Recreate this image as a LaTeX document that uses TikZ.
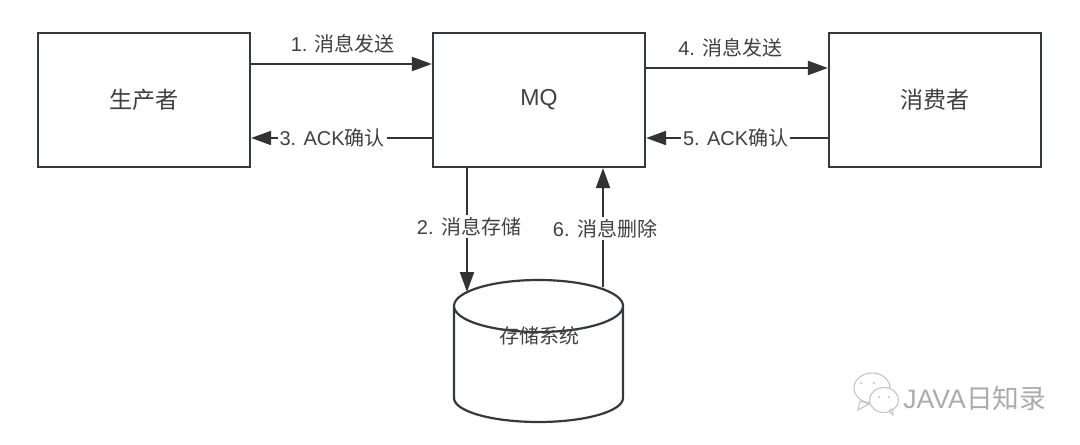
\documentclass[tikz,border=0pt]{standalone}
\usepackage{fontspec}
\setmainfont{Liberation Sans}
\newfontfamily\cjk{Noto Sans CJK SC}
\definecolor{ln}{HTML}{333A3F}
\definecolor{ar}{HTML}{333333}
\definecolor{tx}{HTML}{404040}
\definecolor{wm}{HTML}{ABABAB}
\definecolor{wl}{HTML}{C4C4C4}
\usetikzlibrary{arrows.meta}
\tikzset{
  boxn/.style={draw=ln,line width=1.65pt,minimum width=159pt,minimum height=100.5pt,inner sep=0pt,text=tx,font=\fontsize{17.3pt}{21pt}\selectfont},
  lab/.style={fill=white,inner sep=1.5pt,text=tx,font=\fontsize{15pt}{18pt}\selectfont},
  flow/.style={draw=ar,line width=1.5pt,-{Triangle[length=15pt,width=10.5pt]}},
}
\begin{document}
\begin{tikzpicture}[x=0.75pt,y=-0.75pt]
\useasboundingbox (0,0) rectangle (1080,445);
\fill[white] (0,0) rectangle (1080,445);
\node[boxn] (prod) at (144,100) {{\cjk 生产者}};
\node[boxn] (mq) at (539,100) {\raisebox{-2.6pt}{MQ}};
\node[boxn] (cons) at (935,100) {{\cjk 消费者}};
% cylinder
\coordinate (cylA) at (467,292);
\coordinate (cylB) at (603,287);
\draw[ln,line width=1.65pt] (454,306) arc[x radius=84.5,y radius=26,start angle=180,end angle=360]
  (454,306) arc[x radius=84.5,y radius=26,start angle=180,end angle=0]
  -- (623,398) arc[x radius=84.5,y radius=24,start angle=0,end angle=180] -- cycle;
\node[text=tx,font=\fontsize{15pt}{18pt}\selectfont,inner sep=0pt] (store) at (539.5,336) {{\cjk 存储系统}};
% connectors
\draw[flow] ([yshift=27pt]prod.east) -- node[lab,fill=none,yshift=15.5pt,xshift=1pt] (l1) {1. {\cjk 消息发送}} ([yshift=27pt]mq.west);
\draw[flow] ([yshift=-28.5pt]mq.west) -- node[lab,xshift=-7pt] (l3) {3. ACK{\cjk 确认}} ([yshift=-28.5pt]prod.east);
\draw[flow] ([yshift=24pt]mq.east) -- node[lab,fill=none,yshift=15.5pt,xshift=-5pt] (l4) {4. {\cjk 消息发送}} ([yshift=24pt]cons.west);
\draw[flow] ([yshift=-28.5pt]cons.west) -- node[lab,xshift=-1pt] (l5) {5. ACK{\cjk 确认}} ([yshift=-28.5pt]mq.east);
\draw[flow] (mq.south -| cylA) -- node[lab,pos=0.47,xshift=1.5pt] (l2) {2. {\cjk 消息存储}} (cylA);
\draw[flow] (cylB) -- node[lab,pos=0.49,xshift=1.5pt] (l6) {6. {\cjk 消息删除}} (mq.south -| cylB);
% watermark
\begin{scope}[draw=wl,line width=0.8pt,fill=white]
\filldraw (872,388) ellipse[x radius=18,y radius=15];
\filldraw (860,401) -- (858,410) -- (869,404) -- cycle;
\filldraw (884,400) ellipse[x radius=14.5,y radius=12.5];
\filldraw (889,411) -- (893,415) -- (892,409) -- cycle;
\fill[wl] (861,383) circle[radius=1.2] (874,383) circle[radius=1.2] (879,397) circle[radius=1.1] (889,397) circle[radius=1.1];
\end{scope}
\node[text=wm,inner sep=0pt,anchor=west,font=\fontsize{20pt}{22pt}\selectfont] (wmark) at (903,398) {JAVA{\cjk 日知录}};
\end{tikzpicture}
\end{document}
